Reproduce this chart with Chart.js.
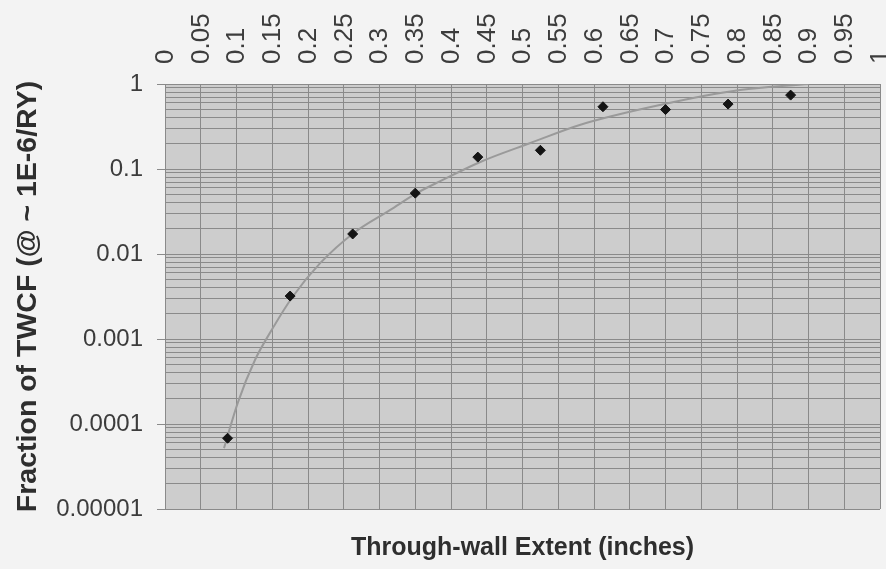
<!DOCTYPE html>
<html>
<head>
<meta charset="utf-8">
<script src="https://cdn.jsdelivr.net/npm/chart.js@4.4.1/dist/chart.umd.min.js"></script>
<style>
  html, body { margin: 0; padding: 0; background: #f3f3f3; }
  #wrap { width: 886px; height: 569px; }
  canvas { display: block; }
</style>
</head>
<body>
<div id="wrap"><canvas id="c" width="886" height="569"></canvas></div>
<script>
// ---- data ----
const extentPts   = [0.0875, 0.175, 0.2625, 0.35, 0.4375, 0.525, 0.6125, 0.7, 0.7875, 0.875];
const fractionPts = [0.000068, 0.0032, 0.0172, 0.052, 0.138, 0.166, 0.54, 0.50, 0.58, 0.74];

const curveExtent   = [0.0825, 0.102, 0.126, 0.150, 0.178, 0.217, 0.264, 0.315, 0.352, 0.385, 0.441, 0.511, 0.580, 0.692, 0.804, 0.900];
const curveFraction = [0.000052, 0.00018, 0.00057, 0.00131, 0.0031, 0.0078, 0.0177, 0.033, 0.052, 0.072, 0.121, 0.202, 0.33, 0.566, 0.85, 1.0];

const xTickValues = [0, 0.05, 0.1, 0.15, 0.2, 0.25, 0.3, 0.35, 0.4, 0.45, 0.5, 0.55, 0.6, 0.65, 0.7, 0.75, 0.8, 0.85, 0.9, 0.95, 1];
const xTickLabels = ['0', '0.05', '0.1', '0.15', '0.2', '0.25', '0.3', '0.35', '0.4', '0.45', '0.5', '0.55', '0.6', '0.65', '0.7', '0.75', '0.8', '0.85', '0.9', '0.95', '1'];

const yDecades    = [0.00001, 0.0001, 0.001, 0.01, 0.1, 1];
const yTickLabels = ['0.00001', '0.0001', '0.001', '0.01', '0.1', '1'];
const yMultipliers = [1, 2, 3, 4, 5, 6, 7, 8, 9];

const xTitle = 'Through-wall Extent (inches)';
const yTitle = 'Fraction of TWCF (@ ~ 1E-6/RY)';

// ---- styling ----
const FONT = "'Liberation Sans', Arial, Helvetica, sans-serif";
const GRID = '#8a8a8a';

const plotBg = {
  id: 'plotBg',
  beforeDraw(chart) {
    const { ctx, chartArea } = chart;
    ctx.save();
    ctx.fillStyle = '#cdcdcd';
    ctx.fillRect(chartArea.left, chartArea.top, chartArea.right - chartArea.left, chartArea.bottom - chartArea.top);
    ctx.restore();
  }
};

const ptData = extentPts.map((x, i) => ({ x: x, y: fractionPts[i] }));
const curveData = curveExtent.map((x, i) => ({ x: x, y: curveFraction[i] }));

new Chart(document.getElementById('c'), {
  type: 'scatter',
  data: {
    datasets: [
      {
        label: 'points',
        data: ptData,
        showLine: false,
        pointStyle: 'rectRot',
        pointRadius: 5,
        pointBackgroundColor: '#141414',
        pointBorderColor: '#141414',
        pointBorderWidth: 1,
        order: 0
      },
      {
        label: 'fit',
        data: curveData,
        showLine: true,
        borderColor: '#9a9a9a',
        borderWidth: 2,
        pointRadius: 0,
        fill: false,
        cubicInterpolationMode: 'monotone',
        order: 1
      }
    ]
  },
  options: {
    responsive: false,
    animation: false,
    devicePixelRatio: 1,
    layout: { padding: { left: 0, right: 6, top: 0, bottom: 0 } },
    plugins: {
      legend: { display: false },
      tooltip: { enabled: false }
    },
    scales: {
      x: {
        type: 'linear',
        position: 'top',
        min: 0,
        max: 1,
        afterBuildTicks(scale) {
          scale.ticks = xTickValues.map(v => ({ value: v }));
        },
        afterFit(scale) {
          scale.height = 84;
          scale.paddingLeft = 0;
          scale.paddingRight = 0;
        },
        ticks: {
          autoSkip: false,
          minRotation: 90,
          maxRotation: 90,
          padding: 20,
          labelOffset: 32,
          color: '#3c3c3c',
          font: { family: FONT, size: 26 },
          callback(v, i) { return xTickLabels[i]; }
        },
        grid: { color: GRID, lineWidth: 1, drawTicks: false },
        border: { color: GRID }
      },
      x2: {
        type: 'linear',
        position: 'bottom',
        min: 0,
        max: 1,
        afterFit(scale) {
          scale.height = 60;
          scale.paddingLeft = 0;
          scale.paddingRight = 0;
        },
        ticks: { display: false },
        grid: { display: false },
        border: { display: false },
        title: {
          display: true,
          text: xTitle,
          color: '#2e2e2e',
          font: { family: FONT, size: 25, weight: 'bold' },
          padding: { top: 0, bottom: 6 }
        }
      },
      y: {
        type: 'logarithmic',
        position: 'left',
        min: 0.00001,
        max: 1,
        afterBuildTicks(scale) {
          const t = [];
          yDecades.forEach((d, k) => {
            if (k === yDecades.length - 1) {
              t.push({ value: d, major: true });
            } else {
              yMultipliers.forEach(m => t.push({ value: parseFloat((m * d).toPrecision(6)), major: m === 1 }));
            }
          });
          scale.ticks = t;
        },
        afterFit(scale) { scale.width = 165; },
        ticks: {
          autoSkip: false,
          padding: 14,
          color: '#3c3c3c',
          font: { family: FONT, size: 24 },
          callback(v) {
            const i = yDecades.findIndex(d => Math.abs(d - v) / d < 1e-6);
            return i >= 0 ? yTickLabels[i] : '';
          }
        },
        grid: {
          color: GRID,
          lineWidth: 1,
          tickLength: 8,
          tickColor: (ctx) => (ctx.tick && ctx.tick.major) ? GRID : 'rgba(0,0,0,0)'
        },
        border: { color: GRID },
        title: {
          display: true,
          text: yTitle,
          color: '#2e2e2e',
          font: { family: FONT, size: 28.5, weight: 'bold' },
          padding: { top: 11, bottom: 0 }
        }
      }
    }
  },
  plugins: [plotBg]
});
</script>
</body>
</html>
